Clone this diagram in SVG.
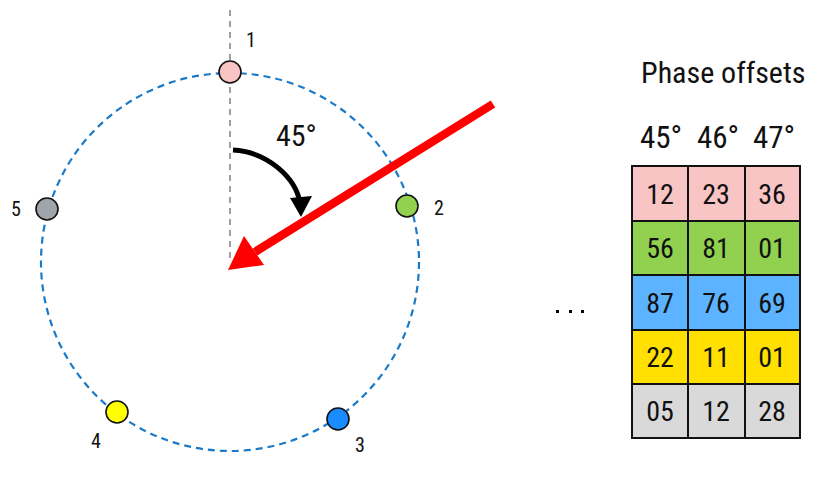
<svg xmlns="http://www.w3.org/2000/svg" width="829" height="487" viewBox="0 0 829 487">
<style>
text{font-family:"Roboto Condensed","Liberation Sans Narrow","Liberation Sans",sans-serif;fill:#111}
.lbl{font-size:20px}
.node{stroke:#111;stroke-width:1.6}
.cell{stroke:#111;stroke-width:2}
.num{font-size:28px;text-anchor:middle}
.hdr{font-size:31px;text-anchor:middle}
</style>
<g id="connectors">
<line x1="230" y1="10" x2="230" y2="262" stroke="#888" stroke-width="1.6" stroke-dasharray="6,5"/>
<circle cx="230" cy="262" r="189" fill="none" stroke="#1a7ac8" stroke-width="2.2" stroke-dasharray="7,5"/>
<path d="M233,150 C268,152 296,178 300,203" fill="none" stroke="#000" stroke-width="5"/>
<path d="M290,198 L312,196 L301,217 Z" fill="#000"/>
<line x1="493" y1="104" x2="255" y2="252" stroke="#f00" stroke-width="8.5"/>
<path d="M228,270 L244,236 L264,265 Z" fill="#f00"/>
<text x="276" y="146" font-size="30">45°</text>
</g>
<g id="n1"><circle class="node" cx="230" cy="72" r="11" fill="#f8c4c4"/><text class="lbl" x="246" y="47">1</text></g>
<g id="n2"><circle class="node" cx="407" cy="206" r="11" fill="#92d050"/><text class="lbl" x="434" y="215">2</text></g>
<g id="n3"><circle class="node" cx="338" cy="419" r="11" fill="#1a8cff"/><text class="lbl" x="355" y="452">3</text></g>
<g id="n4"><circle class="node" cx="117" cy="412" r="11" fill="#ffff00"/><text class="lbl" x="91" y="448">4</text></g>
<g id="n5"><circle class="node" cx="47" cy="209" r="11" fill="#a0a4ab"/><text class="lbl" x="11" y="216">5</text></g>
<g id="dots" fill="#000">
<rect x="556" y="310" width="3" height="3"/><rect x="569" y="310" width="3" height="3"/><rect x="581" y="310" width="3" height="3"/>
</g>
<g id="table">
<text x="641" y="83" font-size="30">Phase offsets</text>
<text class="hdr" x="661" y="148">45°</text>
<text class="hdr" x="718" y="148">46°</text>
<text class="hdr" x="774" y="148">47°</text>
<g fill="#f8c4c4"><rect class="cell" x="632" y="166" width="56" height="55"/><rect class="cell" x="688" y="166" width="57" height="55"/><rect class="cell" x="745" y="166" width="55" height="55"/></g>
<g fill="#92d050"><rect class="cell" x="632" y="221" width="56" height="54"/><rect class="cell" x="688" y="221" width="57" height="54"/><rect class="cell" x="745" y="221" width="55" height="54"/></g>
<g fill="#5cb3ff"><rect class="cell" x="632" y="275" width="56" height="55"/><rect class="cell" x="688" y="275" width="57" height="55"/><rect class="cell" x="745" y="275" width="55" height="55"/></g>
<g fill="#ffe000"><rect class="cell" x="632" y="330" width="56" height="54"/><rect class="cell" x="688" y="330" width="57" height="54"/><rect class="cell" x="745" y="330" width="55" height="54"/></g>
<g fill="#d9d9d9"><rect class="cell" x="632" y="384" width="56" height="54"/><rect class="cell" x="688" y="384" width="57" height="54"/><rect class="cell" x="745" y="384" width="55" height="54"/></g>
<text class="num" x="660" y="204">12</text><text class="num" x="716" y="204">23</text><text class="num" x="772" y="204">36</text>
<text class="num" x="660" y="258">56</text><text class="num" x="716" y="258">81</text><text class="num" x="772" y="258">01</text>
<text class="num" x="660" y="313">87</text><text class="num" x="716" y="313">76</text><text class="num" x="772" y="313">69</text>
<text class="num" x="660" y="367">22</text><text class="num" x="716" y="367">11</text><text class="num" x="772" y="367">01</text>
<text class="num" x="660" y="421">05</text><text class="num" x="716" y="421">12</text><text class="num" x="772" y="421">28</text>
</g>
</svg>
